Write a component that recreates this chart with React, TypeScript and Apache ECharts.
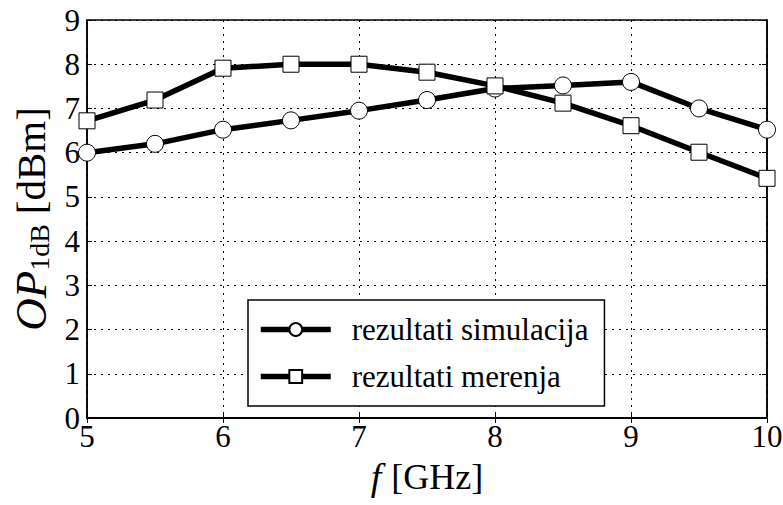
import React, { useEffect, useRef } from "react";
import * as echarts from "echarts";

const freqs = [5, 5.5, 6, 6.5, 7, 7.5, 8, 8.5, 9, 9.5, 10];
const simulacija = [6.0, 6.2, 6.52, 6.73, 6.95, 7.19, 7.45, 7.52, 7.6, 7.0, 6.52];
const merenja = [6.72, 7.19, 7.91, 8.0, 8.0, 7.82, 7.51, 7.12, 6.61, 6.01, 5.42];
const seriesNames = ["rezultati simulacija", "rezultati merenja"];

const FONT = "'Liberation Serif', serif";

export default function App() {
  const ref = useRef<HTMLDivElement>(null);
  useEffect(() => {
    const chart = echarts.init(ref.current!, null, { renderer: "svg" });
    const axisCommon = {
      axisLine: { show: true, lineStyle: { color: "#000", width: 1.5 } },
      axisTick: { show: true, inside: true, length: 5, lineStyle: { color: "#000" } },
    };
    chart.setOption({
      animation: false,
      backgroundColor: "#fff",
      grid: {
        left: 87, right: 16, top: 20, bottom: 87,
        show: true, borderColor: "#000", borderWidth: 1.5,
        outerBoundsMode: "none", containLabel: false,
      },
      xAxis: [
        {
          type: "value",
          min: 5,
          max: 10,
          interval: 1,
          ...axisCommon,
          axisLabel: { color: "#000", fontFamily: FONT, fontSize: 31, margin: 3 },
          splitLine: { show: true, lineStyle: { color: "#000", type: [2, 5], width: 1 } },
          name: "{i|f}{n|[GHz]}",
          nameLocation: "middle",
          nameGap: 40,
          nameTextStyle: {
            rich: {
              i: { fontFamily: FONT, fontStyle: "italic", fontSize: 38, color: "#000", padding: [0, 10, 0, 0] },
              n: { fontFamily: FONT, fontSize: 36, color: "#000" },
            },
          },
        },
        {
          type: "value",
          position: "top",
          min: 5,
          max: 10,
          interval: 1,
          ...axisCommon,
          axisLabel: { show: false },
          splitLine: { show: false },
        },
      ],
      yAxis: [
        {
          type: "value",
          min: 0,
          max: 9,
          interval: 1,
          ...axisCommon,
          axisLabel: { color: "#000", fontFamily: FONT, fontSize: 31, margin: 7 },
          splitLine: { show: true, lineStyle: { color: "#000", type: [2, 5], width: 1 } },
          name: "{i|OP}{s|1dB}{n|[dBm]}",
          nameLocation: "middle",
          nameGap: 32,
          nameRotate: 90,
          nameTextStyle: {
            rich: {
              i: { fontFamily: FONT, fontStyle: "italic", fontSize: 45, color: "#000" },
              s: { fontFamily: FONT, fontSize: 28, color: "#000", verticalAlign: "bottom", padding: [18, 10, 0, 0] },
              n: { fontFamily: FONT, fontSize: 41, color: "#000" },
            },
          },
        },
        {
          type: "value",
          position: "right",
          min: 0,
          max: 9,
          interval: 1,
          ...axisCommon,
          axisLabel: { show: false },
          splitLine: { show: false },
        },
      ],
      legend: {
        show: true,
        orient: "vertical",
        left: 248,
        top: 300,
        backgroundColor: "#fff",
        borderColor: "#000",
        borderWidth: 1.5,
        borderRadius: 0,
        padding: [14, 16, 14, 10],
        itemGap: 16,
        itemWidth: 70,
        itemHeight: 16,
        lineStyle: { width: 5.5, color: "#000" },
        textStyle: { fontFamily: FONT, fontSize: 31, color: "#000", padding: [0, 0, 0, 16] },
        data: seriesNames,
      },
      series: [
        {
          name: seriesNames[0],
          type: "line",
          data: freqs.map((f, i) => [f, simulacija[i]]),
          symbol: "circle",
          symbolSize: 17,
          lineStyle: { color: "#000", width: 5.5 },
          itemStyle: { color: "#fff", borderColor: "#000", borderWidth: 1 },
          z: 3,
        },
        {
          name: seriesNames[1],
          type: "line",
          data: freqs.map((f, i) => [f, merenja[i]]),
          symbol: "rect",
          symbolSize: 16,
          lineStyle: { color: "#000", width: 5.5 },
          itemStyle: { color: "#fff", borderColor: "#000", borderWidth: 1 },
          z: 4,
        },
      ],
    });
    return () => chart.dispose();
  }, []);
  return <div ref={ref} style={{ width: 783, height: 505, position: "absolute", left: 0, top: 0 }} />;
}
